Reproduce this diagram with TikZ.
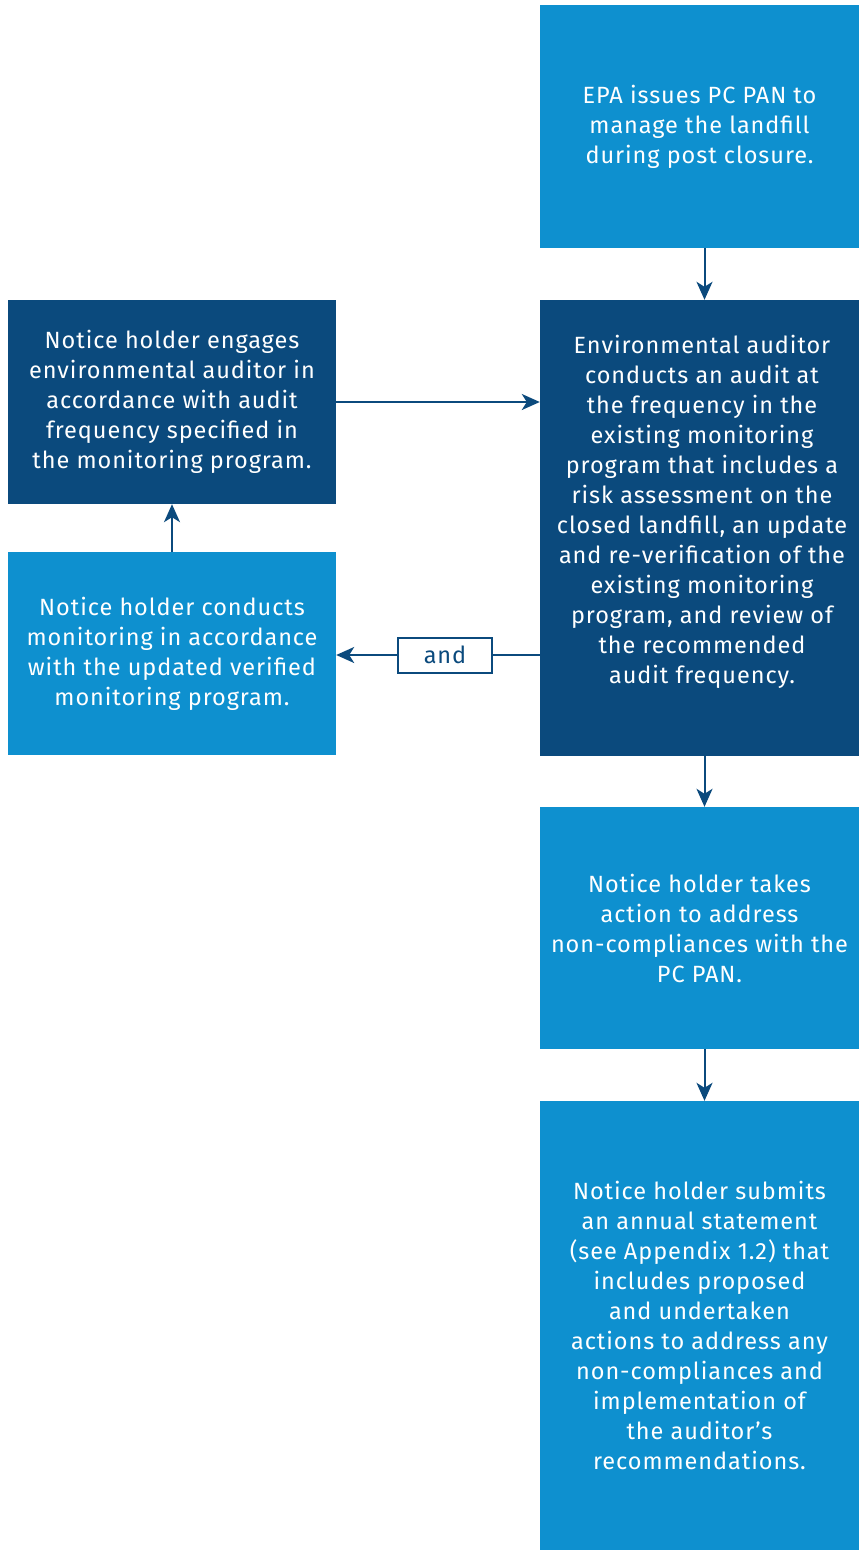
\documentclass[tikz,border=0pt]{standalone}
\usepackage{fontspec}
\setmainfont{Fira Sans}[LetterSpace=4]
\usetikzlibrary{arrows.meta}
\definecolor{lightblue}{HTML}{0E90CF}
\definecolor{darkblue}{HTML}{0B4A7D}
\tikzset{
  box/.style={rectangle, inner sep=0pt, text=white, align=center,
    font=\fontsize{23.5}{30}\selectfont},
  lbox/.style={box, fill=lightblue},
  dbox/.style={box, fill=darkblue},
  arr/.style={draw=darkblue, line width=2pt, -{Stealth[length=18pt,width=16pt,inset=5pt]}},
  andbox/.style={rectangle, draw=darkblue, line width=2pt, fill=white, text=darkblue,
    minimum width=94pt, minimum height=35pt, inner sep=0pt, font=\fontsize{23.5}{25}\selectfont}
}
\begin{document}
\begin{tikzpicture}[x=1pt,y=-1pt]
\useasboundingbox (0,0) rectangle (859,1550);
\node[lbox, minimum width=319pt, minimum height=243pt] (b1) at (699.5,126.5)
  {EPA issues PC PAN to\\manage the landfill\\during post closure.};
\node[dbox, minimum width=328pt, minimum height=204pt] (b2) at (172,402)
  {Notice holder engages\\environmental auditor in\\accordance with audit\\frequency specified in\\the monitoring program.};
\node[dbox, minimum width=319pt, minimum height=456pt] (b3) at (699.5,528) {};
\node[box] (t3) at (702,512)
  {Environmental auditor\\conducts an audit at\\the frequency in the\\existing monitoring\\program that includes a\\risk assessment on the\\closed landfill, an update\\and re-verification of the\\existing monitoring\\program, and review of\\the recommended\\audit frequency.};
\node[lbox, minimum width=328pt, minimum height=203pt] (b4) at (172,653.5)
  {Notice holder conducts\\monitoring in accordance\\with the updated verified\\monitoring program.};
\node[lbox, minimum width=319pt, minimum height=242pt] (b5) at (699.5,928)
  {Notice holder takes\\action to address\\non-compliances with the\\PC PAN.};
\node[lbox, minimum width=319pt, minimum height=449pt] (b6) at (699.5,1325.5)
  {Notice holder submits\\an annual statement\\(see Appendix 1.2) that\\includes proposed\\and undertaken\\actions to address any\\non-compliances and\\implementation of\\the auditor's\\recommendations.};
\draw[arr] ([xshift=5pt]b1.south) -- ([xshift=5pt]b3.north);
\draw[arr] (b2.east) -- (b2.east -| b3.west);
\draw[arr] (b4.north) -- (b2.south);
\node[andbox] (and) at (445,655) {and};
\draw[darkblue, line width=2pt] (and.east -| b3.west) -- (and.east);
\draw[arr] (and.west) -- (and.west -| b4.east);
\draw[arr] ([xshift=5pt]b3.south) -- ([xshift=5pt]b5.north);
\draw[arr] ([xshift=5pt]b5.south) -- ([xshift=5pt]b6.north);
\end{tikzpicture}
\end{document}
